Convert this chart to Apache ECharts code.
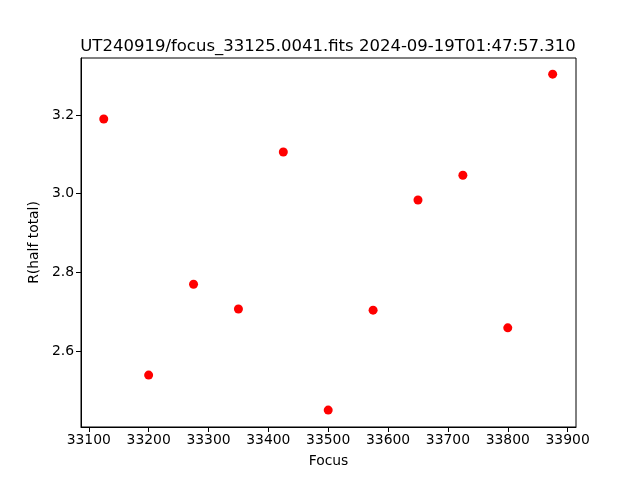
<!DOCTYPE html>
<html><head><meta charset="utf-8">
<script src="https://cdn.jsdelivr.net/npm/echarts@6/dist/echarts.min.js"></script>
<style>html,body{margin:0;padding:0;background:#fff}#c{width:640px;height:480px}</style>
</head><body><div id="c"></div>
<script>
const focusValues = [33125, 33200, 33275, 33350, 33425, 33500, 33575, 33650, 33725, 33800, 33875];
const rHalfTotal = [3.190, 2.539, 2.770, 2.707, 3.106, 2.450, 2.704, 2.984, 3.047, 2.659, 3.304];
const xTicks = [33100, 33200, 33300, 33400, 33500, 33600, 33700, 33800, 33900];
const yTicks = [2.6, 2.8, 3.0, 3.2];
const titleText = 'UT240919/focus_33125.0041.fits 2024-09-19T01:47:57.310';

const chart = echarts.init(document.getElementById('c'));
const font = 'DejaVu Sans';
chart.setOption({
  animation: false,
  backgroundColor: '#fff',
  title: {text: titleText, left: 323, textAlign: 'center', top: 33, textStyle: {fontFamily: font, fontSize: 16.5, fontWeight: 'normal', color: '#000'}},
  grid: {left: 81, right: 64, top: 58, bottom: 53, show: true, borderColor: '#000', borderWidth: 1, backgroundColor: 'transparent'},
  xAxis: {
    type: 'value', min: 33087, max: 33914,
    name: 'Focus', nameLocation: 'middle', nameGap: 27,
    nameTextStyle: {fontFamily: font, fontSize: 13.9, color: '#000'},
    axisLine: {show: true, onZero: false, lineStyle: {color: '#000', width: 1}},
    axisTick: {show: true, length: 5, lineStyle: {color: '#000'}, customValues: xTicks},
    axisLabel: {fontFamily: font, fontSize: 13.9, color: '#000', margin: 6, customValues: xTicks, formatter: v => String(v)},
    splitLine: {show: false}
  },
  yAxis: {
    type: 'value', min: 2.407, max: 3.345,
    name: 'R(half total)', nameLocation: 'middle', nameGap: 39,
    nameTextStyle: {fontFamily: font, fontSize: 13.9, color: '#000'},
    axisLine: {show: true, onZero: false, lineStyle: {color: '#000', width: 1}},
    axisTick: {show: true, length: 5, lineStyle: {color: '#000'}, customValues: yTicks},
    axisLabel: {fontFamily: font, fontSize: 13.9, color: '#000', margin: 7, customValues: yTicks, formatter: v => v.toFixed(1)},
    splitLine: {show: false}
  },
  series: [{
    type: 'scatter',
    data: focusValues.map((x, i) => [x, rHalfTotal[i]]),
    symbol: 'circle', symbolSize: 9,
    itemStyle: {color: '#ff0000', opacity: 1}
  }]
});
</script></body></html>
